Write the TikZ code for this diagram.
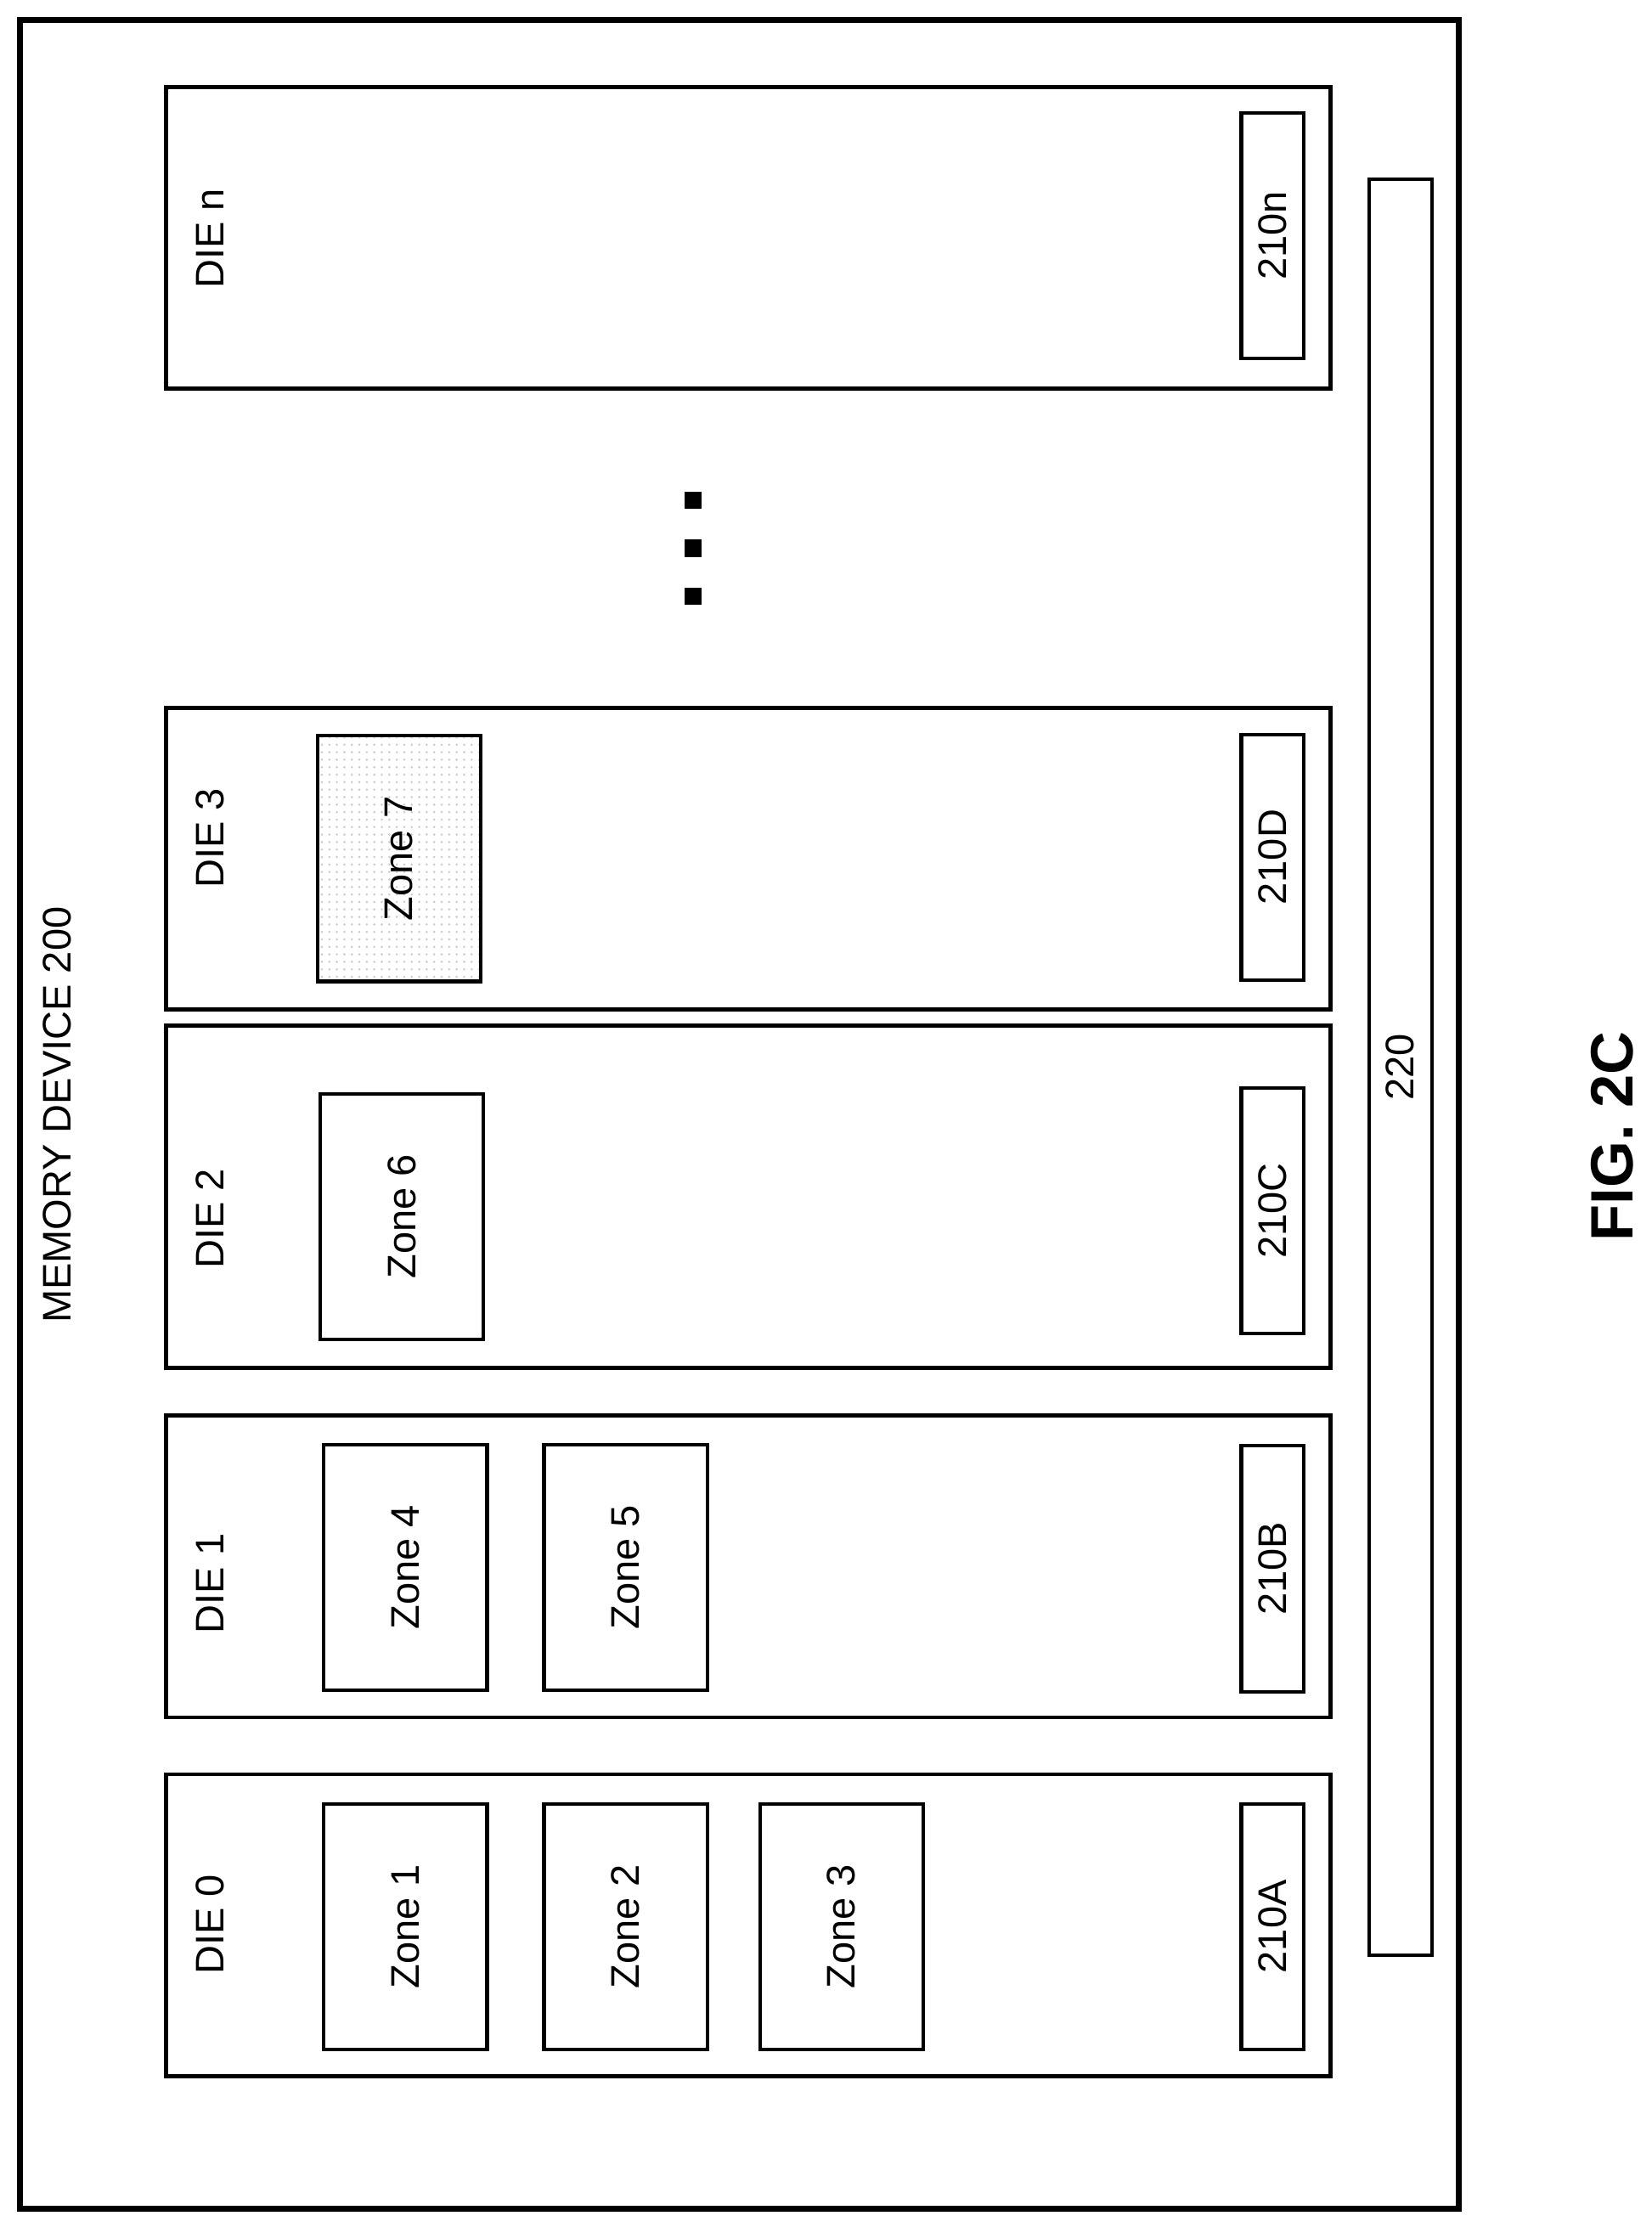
\documentclass[tikz,border=0pt]{standalone}
\usepackage{fontspec}
\setmainfont{Liberation Sans}
\usetikzlibrary{positioning, calc, patterns}

\tikzset{
  diebox/.style={draw, line width=1.6pt, rotate=90, minimum width=4.25cm, minimum height=16.4cm},
  zonebox/.style={draw, line width=1.4pt, rotate=90, minimum width=3.46cm, minimum height=2.3cm, font=\fontsize{16}{18}\selectfont},
  ctlbox/.style={draw, line width=1.4pt, rotate=90, minimum width=3.46cm, minimum height=0.88cm, font=\fontsize{16}{18}\selectfont},
  dielabel/.style={rotate=90, font=\fontsize{16}{18}\selectfont},
}

\begin{document}
\begin{tikzpicture}[x=0.02cm, y=-0.02cm]
\useasboundingbox (0,0) rectangle (1163,1568);
\draw[line width=2.5pt] (14,14) rectangle (1027,1555);
\node (title) [dielabel] at (40,785) {MEMORY DEVICE 200};

% dies
\node (dien) [diebox] at (527,167.5) {};
\node (die3) [diebox] at (527,604.5) {};
\node (die2) [diebox, minimum width=4.82cm] at (527,842.5) {};
\node (die1) [diebox] at (527,1103) {};
\node (die0) [diebox] at (527,1355.5) {};

\node (ln) [dielabel] at (148,168) {DIE n};
\node (l3) [dielabel] at (148,590) {DIE 3};
\node (l2) [dielabel] at (148,858) {DIE 2};
\node (l1) [dielabel] at (148,1115) {DIE 1};
\node (l0) [dielabel] at (148,1355) {DIE 0};

% zones
\node (z1) [zonebox] at (285.5,1356.5) {Zone 1};
\node (z2) [zonebox] at (440.5,1356.5) {Zone 2};
\node (z3) [zonebox] at (592.5,1356.5) {Zone 3};
\node (z4) [zonebox] at (285.5,1103.5) {Zone 4};
\node (z5) [zonebox] at (440.5,1103.5) {Zone 5};
\node (z6) [zonebox] at (283,856.5) {Zone 6};
\node (z7) [zonebox, pattern=dots, pattern color=gray!40] at (281,604.5) {};
\node at (z7) [rotate=90, font=\fontsize{16}{18}\selectfont] {Zone 7};

% controllers
\node (ca) [ctlbox] at (896,1356.5) {210A};
\node (cb) [ctlbox] at (896,1104.5) {210B};
\node (cc) [ctlbox] at (896,852.5) {210C};
\node (cd) [ctlbox] at (896,603.5) {210D};
\node (cn) [ctlbox] at (896,166) {210n};

% bus
\node (bus) [draw, line width=1.4pt, rotate=90, minimum width=25.02cm, minimum height=0.88cm, font=\fontsize{16}{18}\selectfont] at (986,751.5) {220};

% dots
\foreach \yy in {352,386,420}
  \fill (482,\yy-6) rectangle (494,\yy+6);

\node (fig) [rotate=90, font=\fontsize{24}{28}\selectfont\bfseries] at (1135,800) {FIG. 2C};
\end{tikzpicture}
\end{document}
